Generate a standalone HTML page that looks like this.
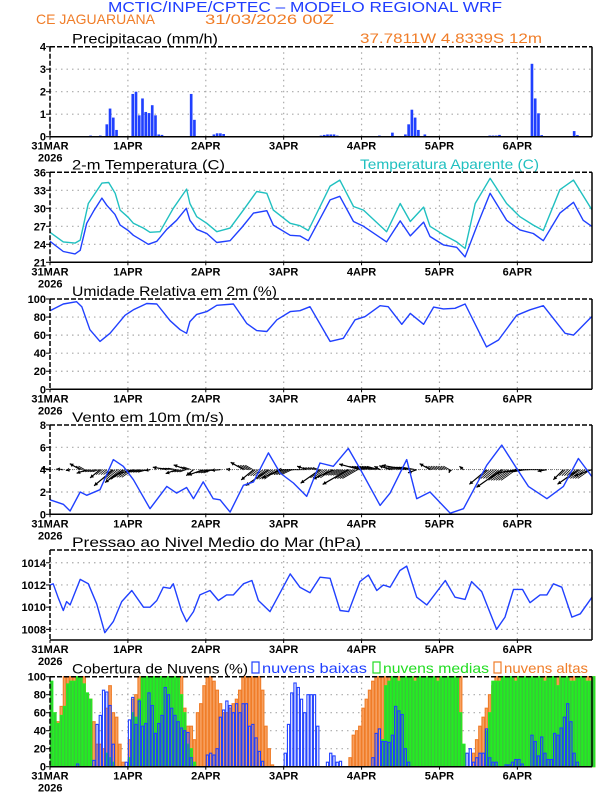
<!DOCTYPE html>
<html><head><meta charset="utf-8">
<style>
html,body{margin:0;padding:0;background:#fff;}
svg{display:block;}
text{font-family:"Liberation Sans",sans-serif;}
.tk{font-size:11px;font-weight:bold;fill:#000;}
.pt{font-size:14px;fill:#000;}
</style></head>
<body>
<svg id="chart" width="612" height="792" viewBox="0 0 612 792" xmlns="http://www.w3.org/2000/svg">
<text x="108" y="12" font-size="15" fill="#1f3dff" textLength="394" lengthAdjust="spacingAndGlyphs">MCTIC/INPE/CPTEC – MODELO REGIONAL WRF</text>
<text x="36" y="24" font-size="14" fill="#f07d28" textLength="119" lengthAdjust="spacingAndGlyphs">CE JAGUARUANA</text>
<text x="205" y="24" font-size="14" fill="#f07d28" textLength="129" lengthAdjust="spacingAndGlyphs">31/03/2026 00Z</text>
<text x="360" y="43" font-size="14" fill="#f07d28" textLength="182" lengthAdjust="spacingAndGlyphs">37.7811W 4.8339S 12m</text>
<g id="layer"></g>
</svg>
<script>
// ---------- data ----------
const dayLabels = ["31MAR","1APR","2APR","3APR","4APR","5APR","6APR"];
const precipValues = [0,0,0,0,0,0,0,0,0,0,0,0,0.05,0,0,0.05,0,0.55,1.25,0.85,0.3,0,0,0,0,1.9,2.0,0.95,1.7,1.1,1.05,1.4,0.95,0.1,0.08,0.03,0,0,0,0,0,0,0,1.9,0.75,0,0,0,0,0,0.1,0.15,0.15,0.12,0,0.02,0,0,0,0,0.02,0,0,0,0,0,0,0,0,0,0,0,0,0,0,0,0,0,0,0,0,0,0,0.05,0.08,0.1,0.1,0.1,0.05,0,0,0,0,0,0,0,0,0,0,0,0,0.05,0,0,0,0.18,0,0,0,0.1,0.55,1.2,0.85,0.3,0,0.1,0,0,0,0,0,0,0,0,0,0,0,0,0,0,0,0,0,0,0,0.05,0.05,0.05,0.08,0,0,0,0,0,0,0,0,0,3.24,1.7,1.04,0.07,0.03,0.03,0.03,0,0,0,0,0,0,0.25,0.07,0,0,0,0,0];
const tempHours = [0,4.1,7.7,9.3,11.3,13.4,16,17.5,20,21.6,24.1,25.7,28.8,30.3,32.9,36,39,42,43.1,45.2,48.3,51.4,55.5,59.1,62.7,66.8,68.8,74,77,79.6,86.3,89.3,93.5,96.6,103.7,107.9,111,115.1,117.1,121.2,125.3,127.9,131.5,135.6,140.7,144.8,148.9,152,157.1,161.3,164.3,166.9];
const tempValues = [24.5,22.8,22.4,23,27.5,29.5,31.7,30.5,29,27.2,26.3,25.5,24.5,24,24.5,26.5,28,30,28,26.5,25.8,24.3,24.6,26.8,29.2,29.6,27.2,25.5,25.4,24.6,31.4,32.0,27.8,27,24.4,27.9,25.4,27.7,25.3,23.9,23.5,21.9,27,32.5,28,26.4,25.8,24.6,29.2,31,28,27];
const appHours = [0,4.1,7.7,9.3,11.8,16,18.1,20.1,21.6,24.1,25.7,28.8,30.8,33.9,38,42.1,43.1,45.2,48.3,51.4,55.5,59.6,63.7,66.8,68.8,74,77,79.6,86.3,89.3,93.5,96.6,103.7,107.9,111,115.1,117.1,121.2,125.3,127.9,131,135.6,140.7,144.8,148.9,152,157.1,161.3,166.9];
const appValues = [26,24.4,24.2,24.7,30.8,34.2,34.3,32.5,29.7,28.5,27.5,26.7,26,26.1,30,33.2,30.8,28.6,27.5,26.1,26.7,29.7,32.8,32.5,29.7,27.5,27.1,26.3,33.7,34.7,30.3,29.7,26.1,30.8,27.8,30.2,27,25.6,24.4,23.3,30.8,35,30.8,28.6,27.2,26.3,33.1,34.7,29.8];
const rhHours = [0,4.1,8.2,9.8,12.3,15.4,18.5,20.5,23.1,25.7,27.7,29.8,32.9,37,40.1,42.1,43.1,45.2,48.3,51.4,56.5,60.6,63.7,66.8,69.9,74,77,80.1,86.3,90.4,94,97.1,101.7,104.2,108.4,111,115.1,118.2,121.2,124.8,127.9,134.5,138.2,143.8,147.9,152,158.7,161.3,166.9];
const rhValues = [87,94.5,97,91.5,66,53,62,70.5,82,88,91.5,95,94.5,76,66,62,75,83,86,93,94.5,73,65,64,77,86,87,91.5,53,56.5,77,80.5,92.6,91.5,72,84,72,91,89,89.7,94.5,47,54.6,82,88,92.6,62,60,80.5];
const windHours = [0,4.1,6.2,9.3,11.3,15.4,19.5,22.6,25.7,30.8,36,39,42.1,44.2,47.2,50.3,52.4,55.5,59.6,62.7,67.3,70.9,75,79.1,83.2,87.3,91.9,95.5,101.7,104.8,109.9,113,117.1,123.3,127.4,134.6,139.2,143.8,147.4,153.1,158.2,162.8,166.9];
const windSpeed = [1.3,0.9,0.3,2,1.7,2.2,4.9,4.3,3.1,0.5,2.5,1.9,2.4,1.4,2.9,1.4,1.3,0.2,2.6,2.9,5.5,3.7,2.8,1.6,4.6,4.3,5.9,4.1,0.8,1.9,4.9,1.4,2,0.1,0.5,4.4,6.2,4.1,2.5,1.4,2.5,5,3.4];
const windDir = [170,175,190,150,200,220,220,215,195,190,170,200,160,220,200,190,185,170,150,220,215,205,180,160,215,205,210,165,150,160,170,200,150,250,140,220,215,190,180,190,225,215,200];
const presHours = [0,1,2.6,4.1,5.1,6.2,9.3,11.8,14.4,16.9,19.5,22.1,25.2,28.8,30.8,32.9,34.9,37,38,40.5,42.1,44.2,46.2,49.3,51.9,54.4,56.5,59.6,62.2,64.2,67.8,74,77,80.1,83.2,86.3,89.4,92,95.5,98.1,100.7,102.7,104.8,107.8,109.9,113,116.1,121.8,124.8,127.9,129.9,133,137.6,140.2,142.8,145.6,147.9,151,153.1,155.1,157.7,160.8,163.4,167];
const presValues = [1012.0,1012.1,1010.8,1009.7,1010.5,1010.2,1012.5,1012.1,1010.3,1007.7,1008.7,1010.5,1011.5,1010.0,1010.0,1010.6,1011.8,1011.7,1012.1,1009.7,1008.7,1009.6,1011.1,1011.5,1010.6,1011.1,1011.1,1012.1,1012.4,1010.6,1009.6,1013,1011.8,1011.3,1012.7,1012.6,1009.7,1009.6,1012.3,1012.9,1011.5,1012,1011.8,1013.3,1013.7,1010.9,1010.2,1012.4,1010.9,1010.7,1012.3,1011.4,1008,1009.1,1011.6,1011.6,1010.4,1011.1,1011.1,1012.1,1011.8,1009.1,1009.4,1010.9];
const cloudHigh = [0,0,50,67,100,100,100,100,100,100,100,80,75,50,25,25,20,65,90,60,55,25,5,0,30,75,80,100,100,100,100,100,100,100,100,100,100,100,100,100,100,65,45,45,30,60,70,90,100,100,95,85,70,60,60,65,70,75,85,100,100,100,100,100,100,85,45,20,2,0,0,0,0,0,0,0,0,0,0,0,0,0,0,0,0,0,0,0,0,0,0,0,10,35,40,45,65,75,85,95,100,100,100,100,100,100,100,100,100,100,100,100,100,100,100,100,100,100,100,100,100,100,100,100,100,100,100,0,0,0,15,30,45,55,65,80,90,100,100,100,100,100,100,100,100,100,100,100,100,100,100,100,100,100,100,100,100,100,100,100,100,100,100,100,100,100,100,100];
const cloudMid = [95,60,48,57,67,92,95,95,100,100,92,82,75,0,0,0,0,15,10,5,0,0,0,0,10,60,55,75,100,100,100,100,100,100,100,100,100,100,100,100,80,60,25,20,5,0,0,0,0,0,0,0,0,0,0,0,0,0,0,0,0,0,0,0,0,0,0,0,0,0,0,0,0,0,0,0,0,0,0,0,0,0,0,0,0,0,0,0,0,0,0,0,0,0,0,0,0,0,0,0,0,0,30,90,95,100,100,95,100,100,100,100,95,100,100,100,100,100,100,95,100,100,100,100,100,100,60,25,0,0,0,0,0,0,40,60,95,95,95,100,100,100,100,95,100,100,100,100,100,100,100,100,95,100,100,100,90,100,100,100,95,95,100,100,100,95,95,100];
const cloudLow = [0,0,0,0,0,0,0,0,3,0,0,0,0,7,47,57,85,83,68,25,0,0,0,5,52,77,47,73,45,48,82,68,37,48,57,88,80,65,57,50,43,40,38,10,0,0,0,0,13,15,13,20,55,63,73,68,60,70,60,70,70,45,47,32,17,6,0,0,0,0,0,0,15,47,82,93,88,75,60,80,80,80,45,0,0,5,15,12,5,6,0,0,0,0,0,0,0,0,0,10,37,42,28,28,27,35,67,62,58,20,5,0,0,0,0,0,0,0,0,0,0,0,0,0,0,0,0,0,15,20,5,10,15,15,42,10,5,5,0,0,2,2,5,8,8,3,0,0,35,28,12,33,15,8,8,37,35,43,55,70,50,15,5,0,0,0,0,0];

// ---------- helpers ----------
const NS = "http://www.w3.org/2000/svg";
const layer = document.getElementById("layer");
const X0 = 50, X1 = 592, HMAX = 167;
function xh(h){ return X0 + h*(X1-X0)/HMAX; }
function mk(tag, attrs, parent){
  const e = document.createElementNS(NS, tag);
  for (const k in attrs) e.setAttribute(k, attrs[k]);
  (parent||layer).appendChild(e);
  return e;
}
function yScale(top, bot, vmin, vmax){ return v => bot - (v - vmin)/(vmax - vmin)*(bot - top); }

function panel(name, top, bot, ticks, vmin, vmax, title){
  const g = mk("g", {});
  
  
  const y = yScale(top, bot, vmin, vmax);
  ticks.forEach(t => {
    if (t === vmin || t === vmax) return;
    const l = mk("line", {x1:X0, x2:X1, y1:y(t), y2:y(t), stroke:"#aaa", "stroke-width":1.2, "stroke-dasharray":"1.5,4"}, g);
    
    
  });
  dayLabels.forEach((d,i) => {
    if (i === 0) return;
    const l = mk("line", {x1:xh(24*i), x2:xh(24*i), y1:top, y2:bot, stroke:"#aaa", "stroke-width":1.2, "stroke-dasharray":"1.5,4"}, g);
    
    
  });
  ticks.forEach(t => {
    const tl = mk("line", {x1:X0-4, x2:X0, y1:y(t), y2:y(t), stroke:"#000", "stroke-width":1}, g);
    
    
    const tx = mk("text", {x:X0-4, y:y(t)+4, "text-anchor":"end", class:"tk"}, g);
    tx.textContent = String(t);
    
    
  });
  dayLabels.forEach((d,i) => {
    const tl = mk("line", {x1:xh(24*i), x2:xh(24*i), y1:bot, y2:bot+3, stroke:"#000", "stroke-width":1}, g);
    
    
    const tx = mk("text", {x:xh(24*i), y:bot+13, "text-anchor":"middle", class:"tk"}, g);
    tx.textContent = d;
    
    
  });
  const yr = mk("text", {x:38, y:bot+25, class:"tk"}, g);
  yr.textContent = "2026";
  
  
  const tt = mk("text", {x:72, y:top-3, class:"pt", textLength:title[1], lengthAdjust:"spacingAndGlyphs"}, g);
  tt.textContent = title[0];
  
  
  return {g, y, top, bot};
}
function frame(p){
  const f = mk("g", {}, p.g);
  
  
  mk("line", {x1:X0, x2:X1, y1:p.top, y2:p.top, stroke:"#000", "stroke-width":1.5, "stroke-dasharray":"5,2"}, f);
  mk("line", {x1:X0, x2:X0, y1:p.top, y2:p.bot, stroke:"#000", "stroke-width":1.5, "stroke-dasharray":"5,2"}, f);
  mk("line", {x1:X1, x2:X1, y1:p.top, y2:p.bot, stroke:"#000", "stroke-width":1.5}, f);
  mk("line", {x1:X0, x2:X1, y1:p.bot, y2:p.bot, stroke:"#000", "stroke-width":1.5}, f);
}
function line(p, hours, vals, color, name){
  const pts = hours.map((h,i) => xh(h).toFixed(1)+","+p.y(vals[i]).toFixed(1)).join(" ");
  const pl = mk("polyline", {points:pts, fill:"none", stroke:color, "stroke-width":1.4, "stroke-linejoin":"round"}, p.g);
  
  
}
function bars(p, vals, fill, stroke, name, inset){
  const bw = (X1-X0)/HMAX;
  const g = mk("g", {}, p.g);
  
  
  vals.forEach((v,h) => {
    if (!(v > 0)) return;
    const x = xh(h) + inset, w = bw - 2*inset;
    const yy = Math.max(p.y(v), p.top);
    const r = mk("rect", {x:x.toFixed(2), y:yy.toFixed(2), width:w.toFixed(2), height:(p.bot-yy).toFixed(2), fill:fill, stroke:stroke, "stroke-width":stroke==="none"?0:1.1}, g);
    
    
  });
}

// ---------- panel 1 ----------
const p1 = panel("precip-panel", 46.7, 136.7, [0,1,2,3,4], 0, 4, ["Precipitacao (mm/h)",146]);
bars(p1, precipValues, "#2040ff", "none", "precip", 0.3);
frame(p1);

// ---------- panel 2 ----------
const p2 = panel("temperature-panel", 172.3, 262.3, [21,24,27,30,33,36], 21, 36, ["2-m Temperatura (C)",153]);
const at = mk("text", {x:360, y:169, "font-size":14, fill:"#20c0c0", textLength:179, lengthAdjust:"spacingAndGlyphs"}, p2.g);
at.textContent = "Temperatura Aparente (C)";


line(p2, appHours, appValues, "#20c0c0", "apparent-temp-line");
line(p2, tempHours, tempValues, "#2040ff", "temperature-line");
frame(p2);

// ---------- panel 3 ----------
const p3 = panel("humidity-panel", 299, 389.3, [0,20,40,60,80,100], 0, 100, ["Umidade Relativa em 2m (%)",205]);
line(p3, rhHours, rhValues, "#2040ff", "humidity-line");
frame(p3);

// ---------- panel 4 ----------
const p4 = panel("wind-panel", 425, 514.3, [0,2,4,6,8], 0, 8, ["Vento em 10m (m/s)",152]);
const ag = mk("g", {}, p4.g);


const by = p4.y(4);
windHours.forEach((h,i) => {
  const len = 3 + windSpeed[i]*4.5, a = windDir[i]*Math.PI/180;
  const ca = Math.cos(a), sa = -Math.sin(a);
  const x0 = xh(h), x1 = x0 + len*ca, y1 = by + len*sa;
  const ar = mk("g", {}, ag);
  
  
  mk("line", {x1:x0, y1:by, x2:x1, y2:y1, stroke:"#000", "stroke-width":1.2}, ar);
  const hl = 4, s = 0.5;
  const b1 = a - s, b2 = a + s;
  mk("polygon", {points:[x1,y1, x1-hl*Math.cos(b1), y1+hl*Math.sin(b1), x1-hl*Math.cos(b2), y1+hl*Math.sin(b2)].map(v=>v.toFixed(1)).join(" "), fill:"#000"}, ar);
  if (i < windHours.length-1 && windSpeed[i] > 1.5) {
    const x2 = xh(windHours[i+1]);
    for (let xx = x0+2; xx < x2; xx += 2.5) {
      mk("line", {x1:xx, y1:by, x2:xx + 0.6*len*ca, y2:by + 0.6*len*sa, stroke:"#000", "stroke-width":0.8}, ar);
    }
  }
});
mk("line", {x1:X0, x2:X1, y1:by, y2:by, stroke:"#555", "stroke-width":0.8, "stroke-dasharray":"1,1"}, ag);
line(p4, windHours, windSpeed, "#2040ff", "wind-speed-line");
frame(p4);

// ---------- panel 5 ----------
const p5 = panel("pressure-panel", 550, 640, [1008,1010,1012,1014], 1007.04, 1015.15, ["Pressao ao Nivel Medio do Mar (hPa)",289]);
line(p5, presHours, presValues, "#2040ff", "pressure-line");
frame(p5);

// ---------- panel 6 ----------
const p6 = panel("cloud-panel", 676.7, 766.7, [0,20,40,60,80,100], 0, 100, ["Cobertura de Nuvens (%)",176]);
bars(p6, cloudHigh, "#f7a060", "#f07d28", "high-cloud", 0.3);
bars(p6, cloudMid, "#39c639", "#22ee22", "mid-cloud", 0.4);
bars(p6, cloudLow, "none", "#2040ff", "low-cloud", 0.5);
const legend = [["nuvens baixas","#2040ff",251,116],["nuvens medias","#22dd22",372,117],["nuvens altas","#f07d28",493,95]];
legend.forEach(l => {
  const g = mk("g", {}, p6.g);
  
  
  mk("rect", {x:l[2]+1, y:662, width:7, height:11, fill:"none", stroke:l[1], "stroke-width":1.2}, g);
  const t = mk("text", {x:l[2]+11, y:673, "font-size":14, fill:l[1], textLength:l[3]-11, lengthAdjust:"spacingAndGlyphs"}, g);
  t.textContent = l[0];
});
frame(p6);
</script>
</body></html>
